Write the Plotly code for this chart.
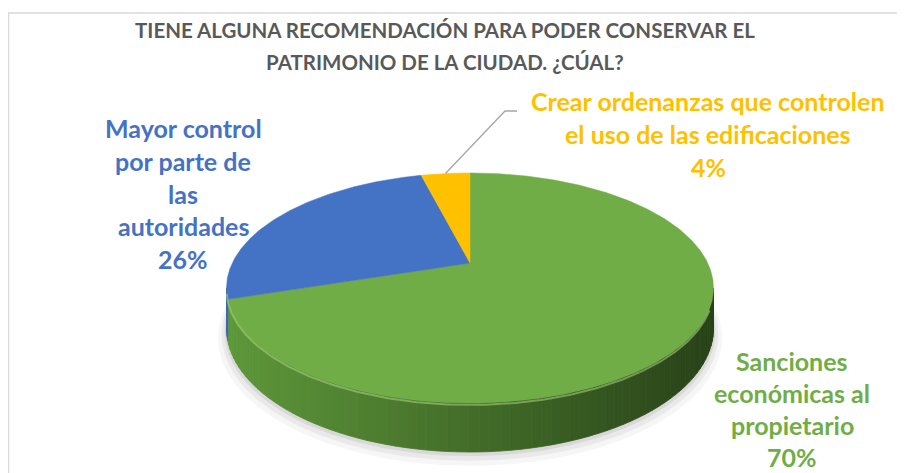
import numpy as np
import plotly.graph_objects as go

# ---------------- data ----------------
categories = [
    "Sanciones económicas al propietario",
    "Mayor control por parte de las autoridades",
    "Crear ordenanzas que controlen el uso de las edificaciones",
]
percent = [70, 26, 4]
label_lines = [
    ["Sanciones", "económicas al", "propietario"],
    ["Mayor control", "por parte de", "las", "autoridades"],
    ["Crear ordenanzas que controlen", "el uso de las edificaciones"],
]
title_lines = [
    "TIENE ALGUNA RECOMENDACIÓN PARA PODER CONSERVAR EL",
    "PATRIMONIO DE LA CIUDAD. ¿CÚAL?",
]

# ---------------- style / layout constants ----------------
PAGE_OFF = 8                      # default body margin of the html page
W, Hfig = 905 - PAGE_OFF, 473 - PAGE_OFF
top_colors = ["#70AD47", "#4472C4", "#FFC000"]
side_light = [(94, 152, 58), (62, 104, 180), (220, 165, 0)]
side_dark = [(40, 66, 24), (36, 62, 112), (150, 110, 0)]
label_colors = ["#70AD47", "#4472C4", "#FFC000"]
label_pos = [(792, 361), (183, 128), (708, 101)]
line_steps = [32.0, 32.8, 32.8]
FONT = "Lato"
LABEL_SIZE = 25
TITLE_SIZE = 20.5

CX, CY = 470.0, 263.0     # projected centre of the pie
S, ST, P = 237.7, 109.6, 0.217   # perspective projection parameters
THICK = 38.4              # pie thickness


def proj(theta_deg, drop=0.0):
    t = np.radians(theta_deg)
    u, v = np.sin(t), np.cos(t)
    w = 1 + P * v
    return CX + S * u / w, CY - ST * v / w + drop * THICK / w


total = float(sum(percent))
angles = np.cumsum([0.0] + [p / total * 360.0 for p in percent])

fig = go.Figure()

# ---- soft shadow ----
th = np.linspace(0, 360, 361)
for grow, dy, op in [(1.035, 9, 0.035), (1.02, 6, 0.05), (1.008, 3, 0.07)]:
    bx, by = proj(th, 1.0)
    mx, my = bx.mean(), by.mean()
    fig.add_trace(go.Scatter(
        x=mx + (bx - mx) * grow, y=my + (by - my) * grow + dy,
        mode="lines", fill="toself", line=dict(width=0),
        fillcolor=f"rgba(0,0,0,{op})", hoverinfo="skip"))

# ---- side wall ----
vis_a = np.degrees(np.arccos(-P))
vis_b = 360 - vis_a
x_left, x_right = proj(vis_b)[0], proj(vis_a)[0]
for i in range(len(percent)):
    a0, a1 = max(angles[i], vis_a), min(angles[i + 1], vis_b)
    if a1 <= a0:
        continue
    n = max(1, int(np.ceil((a1 - a0) / 2.0)))
    edges = np.linspace(a0, a1, n + 1)
    for j in range(n):
        seg = np.linspace(edges[j], edges[j + 1], 4)
        tx, ty = proj(seg)
        bx, by = proj(seg[::-1], 1.0)
        xm = tx.mean()
        f = (xm - x_left) / (x_right - x_left)
        f = min(max(f, 0), 1)
        c = tuple(int(round(side_light[i][k] + (side_dark[i][k] - side_light[i][k]) * f)) for k in range(3))
        col = f"rgb{c}"
        fig.add_trace(go.Scatter(
            x=np.concatenate([tx, bx, tx[:1]]), y=np.concatenate([ty, by, ty[:1]]),
            mode="lines", fill="toself", line=dict(width=0.8, color=col),
            fillcolor=col, hoverinfo="skip"))

# ---- top faces ----
for i in range(len(percent)):
    seg = np.linspace(angles[i], angles[i + 1], max(3, int((angles[i + 1] - angles[i]) * 2)))
    tx, ty = proj(seg)
    fig.add_trace(go.Scatter(
        x=np.concatenate([[CX], tx, [CX]]), y=np.concatenate([[CY], ty, [CY]]),
        mode="lines", fill="toself", line=dict(width=0.5, color=top_colors[i]),
        fillcolor=top_colors[i], hoverinfo="skip", name=categories[i]))

# ---- rim highlight ----
hl = np.linspace(vis_a + 10, vis_b - 2, 200)
hx, hy = proj(hl, 0.04)
fig.add_trace(go.Scatter(x=hx, y=hy, mode="lines",
                         line=dict(width=2, color="rgba(170,215,130,0.55)"), hoverinfo="skip"))

# ---- leader line for smallest slice ----
mid = (angles[2] + angles[3]) / 2
lx, ly = proj(mid)
fig.add_trace(go.Scatter(x=[lx, 505, 517], y=[ly, 111, 111], mode="lines",
                         line=dict(width=1.3, color="#A6A6A6"), hoverinfo="skip"))

# ---- labels ----
ann = []
for i in range(len(percent)):
    lines = label_lines[i] + [f"{percent[i]}%"]
    x0, y0 = label_pos[i]
    for k, t in enumerate(lines):
        ann.append(dict(x=x0, y=y0 + k * line_steps[i], xref="x", yref="y", text=f"<b>{t}</b>",
                        showarrow=False, xanchor="center", yanchor="middle",
                        font=dict(family=FONT, size=LABEL_SIZE, color=label_colors[i])))
for k, t in enumerate(title_lines):
    ann.append(dict(x=445, y=30 + k * 32, xref="x", yref="y", text=f"<b>{t}</b>",
                    showarrow=False, xanchor="center", yanchor="middle",
                    font=dict(family=FONT, size=TITLE_SIZE, color="#595959")))

fig.update_layout(
    width=W, height=Hfig, margin=dict(l=0, r=0, t=0, b=0),
    paper_bgcolor="white", plot_bgcolor="white", showlegend=False, hovermode=False,
    xaxis=dict(range=[PAGE_OFF, PAGE_OFF + W], visible=False, fixedrange=True),
    yaxis=dict(range=[PAGE_OFF + Hfig, PAGE_OFF], visible=False, fixedrange=True),
    annotations=ann,
    shapes=[dict(type="rect", xref="x", yref="y", x0=8.5, y0=13, x1=W + 40, y1=Hfig + 40,
                 line=dict(color="#D9D9D9", width=1.5), layer="below")],
)

fig.write_html("out.html")
